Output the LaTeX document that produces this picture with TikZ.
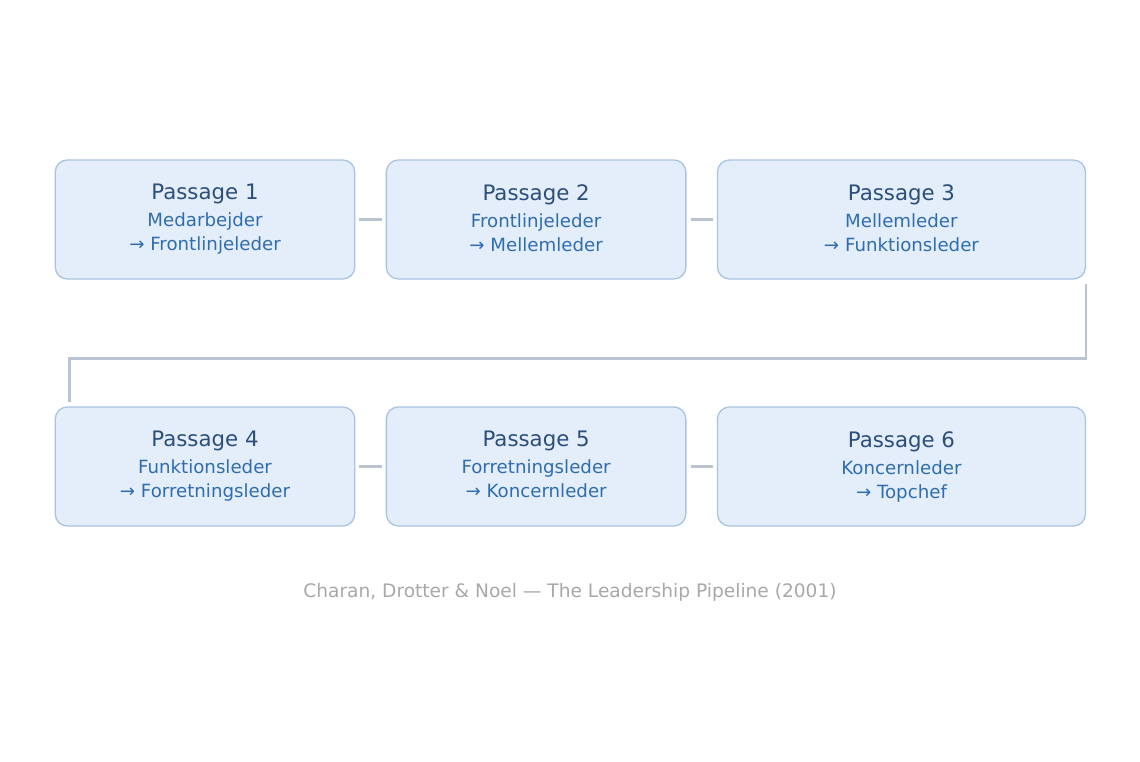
\documentclass[tikz,border=0pt]{standalone}
\usepackage{fontspec}
\setmainfont{DejaVu Sans}
\usetikzlibrary{positioning}
\usepackage{xcolor}

\definecolor{boxfill}{HTML}{E4EEFA}
\definecolor{boxline}{HTML}{A9C3E0}
\definecolor{titleblue}{HTML}{2B4E7A}
\definecolor{subblue}{HTML}{2F6DAE}
\definecolor{linkgray}{HTML}{BAC3D0}
\definecolor{capgray}{HTML}{A8A8A8}

\begin{document}
\begin{tikzpicture}[
    x=1pt, y=1pt,
    box/.style={rectangle, draw=boxline, fill=boxfill, line width=1.3pt, rounded corners=12pt, minimum width=299.5pt, minimum height=119pt, align=center, text=subblue, font=\fontsize{18.2}{24}\selectfont, inner sep=0pt},
    wide/.style={minimum width=368pt},
    link/.style={draw=linkgray, line width=2.5pt}
]
\newcommand{\ptitle}[1]{{\color{titleblue}\fontsize{21.3}{27}\selectfont #1}\\[3pt]}
\useasboundingbox (0,0) rectangle (1140,-761);

\node[box] (p1) at (205,-219.5) {\ptitle{Passage 1}Medarbejder\\→ Frontlinjeleder\vphantom{gj}};
\node[box, right=30.3pt of p1] (p2) {\ptitle{Passage 2}Frontlinjeleder\\→ Mellemleder\vphantom{gj}};
\node[box, wide, right=30.3pt of p2] (p3) {\ptitle{Passage 3}Mellemleder\\→ Funktionsleder\vphantom{gj}};
\node[box, below=126.7pt of p1] (p4) {\ptitle{Passage 4}Funktionsleder\\→ Forretningsleder\vphantom{gj}};
\node[box, right=30.3pt of p4] (p5) {\ptitle{Passage 5}Forretningsleder\\→ Koncernleder\vphantom{gj}};
\node[box, wide, right=30.3pt of p5] (p6) {\ptitle{Passage 6}Koncernleder\\→ Topchef\vphantom{gj}};

\node[text=capgray, font=\fontsize{18.6}{22}\selectfont] (caption) at (570,-592) {Charan, Drotter \& Noel — The Leadership Pipeline (2001)};

\draw[link] ([xshift=4pt]p1.east) -- ([xshift=-4pt]p2.west);
\draw[link] ([xshift=4pt]p2.east) -- ([xshift=-4pt]p3.west);
\draw[link] ([yshift=-4pt]p3.south east) |- ([xshift=15pt,yshift=48pt]p4.north west) -- ([xshift=15pt,yshift=4pt]p4.north west);
\draw[link] ([xshift=4pt]p4.east) -- ([xshift=-4pt]p5.west);
\draw[link] ([xshift=4pt]p5.east) -- ([xshift=-4pt]p6.west);
\end{tikzpicture}
\end{document}
